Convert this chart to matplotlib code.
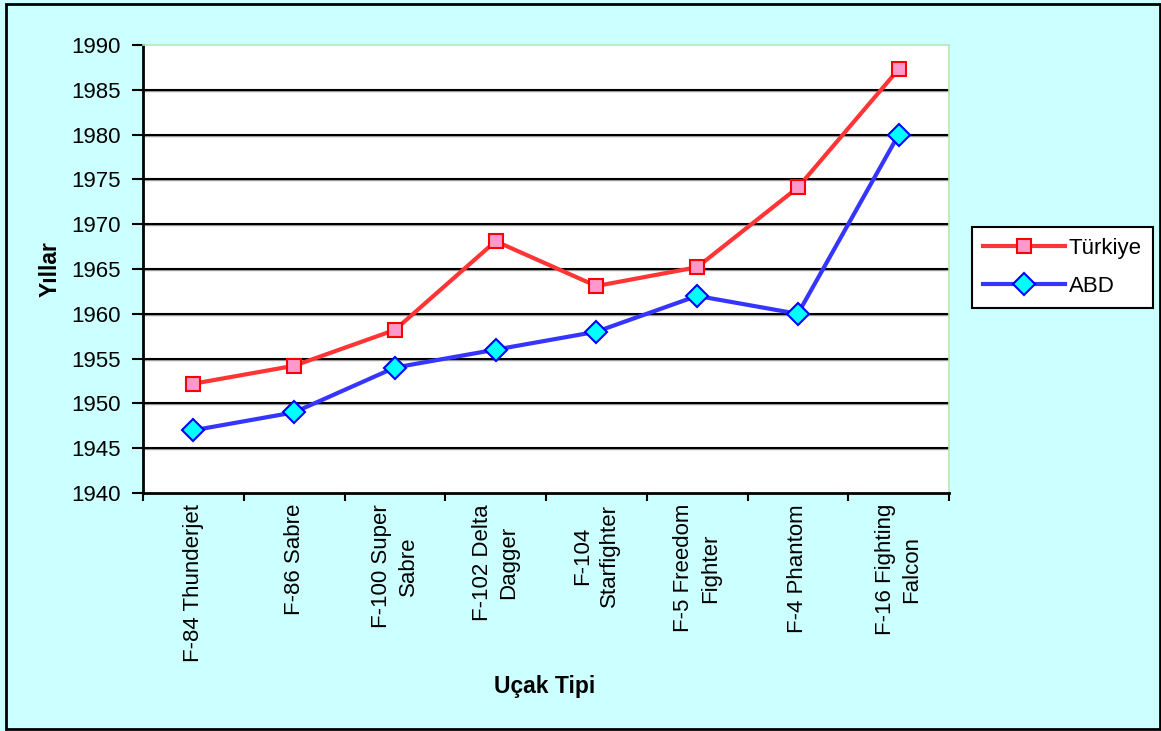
import numpy as np
import matplotlib.pyplot as plt
from matplotlib.patches import Rectangle

plt.rcParams['font.family'] = ['Liberation Sans', 'DejaVu Sans']

# Data
aircraft = ['F-84 Thunderjet', 'F-86 Sabre', 'F-100 Super\nSabre', 'F-102 Delta\nDagger',
            'F-104\nStarfighter', 'F-5 Freedom\nFighter', 'F-4 Phantom', 'F-16 Fighting\nFalcon']
turkiye = [1952.2, 1954.2, 1958.2, 1968.1, 1963.1, 1965.2, 1974.1, 1987.3]
abd = [1947, 1949, 1954, 1956, 1958, 1962, 1960, 1980]
yticks = [1940, 1945, 1950, 1955, 1960, 1965, 1970, 1975, 1980, 1985, 1990]

bg = '#CCFFFF'
fs = 16
W, H = 1161, 731
fig = plt.figure(figsize=(W/100, H/100), dpi=100, facecolor=bg)
ax = fig.add_axes([143/W, 1 - 493/H, 806/W, 448/H])
ax.set_facecolor('white')

x = np.arange(len(aircraft))

# grid lines
for yv in yticks[1:-1]:
    ax.axhline(yv - 0.12, color='#A0A0A0', lw=1.0, zorder=1)
    ax.axhline(yv, color='black', lw=1.5, zorder=1)

ax.plot(x, turkiye, color='#FF3535', lw=3, marker='s', markersize=10,
        markerfacecolor='#FF99CC', markeredgecolor='#FF0000', markeredgewidth=1.5,
        label='Türkiye', zorder=3)
ax.plot(x, abd, color='#3535FF', lw=3, marker='D', markersize=11.5,
        markerfacecolor='#00FFFF', markeredgecolor='#0000FF', markeredgewidth=1.5,
        label='ABD', zorder=3)

ax.set_xlim(-0.5, len(aircraft) - 0.5)
ax.set_ylim(1940, 1990)
ax.set_yticks(yticks)
ax.set_yticklabels([str(v) for v in yticks], fontsize=fs)
ax.set_xticks(x)
ax.set_xticklabels(aircraft, rotation=90, fontsize=fs, ha='center', va='top',
                   multialignment='center', linespacing=1.35)
ax.set_xticks(np.arange(-0.5, len(aircraft)), minor=True)
ax.tick_params(axis='x', which='major', length=0, pad=8)
ax.tick_params(axis='x', which='minor', length=6, width=1.5, direction='out')
ax.tick_params(axis='y', length=8, width=1.5, direction='out', pad=8)

for s in ['left', 'bottom']:
    ax.spines[s].set_linewidth(2)
    ax.spines[s].set_color('black')
for s in ['top', 'right']:
    ax.spines[s].set_linewidth(1.2)
    ax.spines[s].set_color('#B8E8B8')

fig.text(50/W, 1 - 269/H, 'Yıllar', fontsize=16.5, fontweight='bold',
         rotation=90, ha='center', va='center')
fig.text(545/W, 1 - 686/H, 'Uçak Tipi', fontsize=16.5, fontweight='bold',
         ha='center', va='center')

leg = fig.legend(loc='upper left', bbox_to_anchor=(972/W, 1 - 227/H), fontsize=fs,
                 frameon=True, fancybox=False, edgecolor='black', facecolor='white',
                 framealpha=1, borderaxespad=0, handlelength=3.7, handletextpad=0.15,
                 labelspacing=0.75, borderpad=0.5)
leg.get_frame().set_linewidth(1.5)

# outer border of the chart
fig.patches.append(Rectangle((6/W, 2/H), 1154/W, 725/H, transform=fig.transFigure,
                             fill=False, edgecolor='black', lw=2))

fig.savefig('out.png', dpi=100, facecolor=bg)
